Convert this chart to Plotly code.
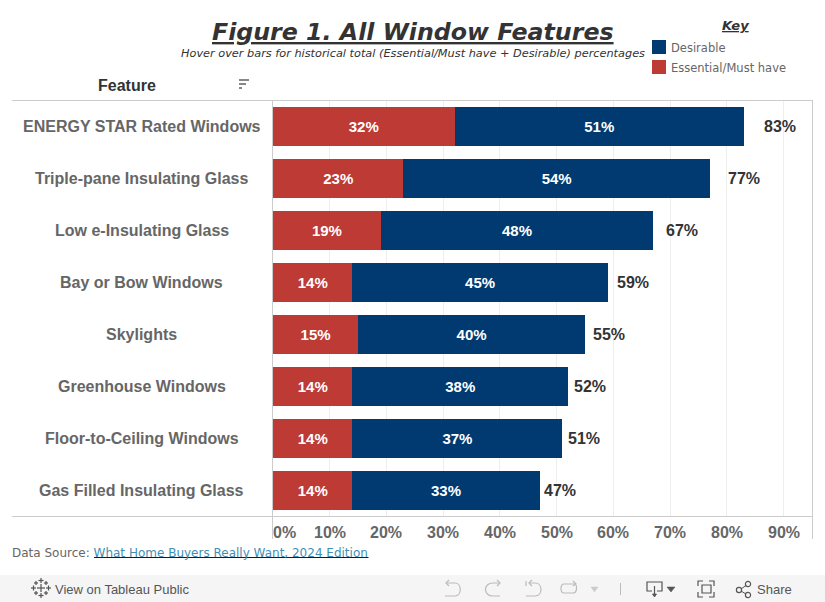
import plotly.graph_objects as go

features = ["ENERGY STAR Rated Windows", "Triple-pane Insulating Glass", "Low e-Insulating Glass",
            "Bay or Bow Windows", "Skylights", "Greenhouse Windows",
            "Floor-to-Ceiling Windows", "Gas Filled Insulating Glass"]
essential = [32, 23, 19, 14, 15, 14, 14, 14]
desirable = [51, 54, 48, 45, 40, 38, 37, 33]
totals = [83, 77, 67, 59, 55, 52, 51, 47]
tick_vals = [0, 10, 20, 30, 40, 50, 60, 70, 80, 90]

W, H = 825, 602
L, R, T, B = 273, 812, 100, 516
RED = "#bd3a35"
NAVY = "#003a70"
GREY = "#666666"
DARK = "#333333"
LINE = "#cccccc"
ICON = "#555555"
FADED = "#bbbbbb"
SANS = "Liberation Sans, Arial, sans-serif"
TITLE = "DejaVu Sans, Verdana, sans-serif"


# shapes and notes are placed in page pixels, paper coords are relative to the plot area
def px(x):
    return (x - L) / (R - L)


def py(y):
    return (B - y) / (B - T)


fig = go.Figure()
fig.add_trace(go.Bar(y=features, x=essential, orientation="h", name="Essential/Must have",
                     marker=dict(color=RED, line_width=0), text=[f"<b>{v}%</b>" for v in essential],
                     textposition="inside", insidetextanchor="middle",
                     textfont=dict(family=SANS, size=15, color="white"), showlegend=False))
fig.add_trace(go.Bar(y=features, x=desirable, orientation="h", name="Desirable",
                     marker=dict(color=NAVY, line_width=0), text=[f"<b>{v}%</b>" for v in desirable],
                     textposition="inside", insidetextanchor="middle",
                     textfont=dict(family=SANS, size=15, color="white"), showlegend=False))

annotations = []
# totals drift away from the bar end as the bar gets longer
for f, t in zip(features, totals):
    annotations.append(dict(x=t, y=f, xref="x", yref="y", text=f"<b>{t}%</b>", showarrow=False,
                            xanchor="left", xshift=2 + (t - 47) * 0.46,
                            font=dict(family=SANS, size=16, color=DARK)))
# category labels are centred in their column
for f in features:
    annotations.append(dict(x=px(141.5), y=f, xref="paper", yref="y", text=f"<b>{f}</b>",
                            showarrow=False, xanchor="center",
                            font=dict(family=SANS, size=16, color=GREY)))
# x tick labels, the first one sits right of its gridline
for v in tick_vals:
    annotations.append(dict(x=v, y=py(532), xref="x", yref="paper", text=f"<b>{v}%</b>",
                            showarrow=False, xanchor="left" if v == 0 else "center", yanchor="middle",
                            xshift=-2 if v == 0 else 0,
                            font=dict(family=SANS, size=16, color=GREY)))


def text(x, y, s, size, color=DARK, family=TITLE, anchor="left"):
    annotations.append(dict(x=px(x), y=py(y), xref="paper", yref="paper", text=s, showarrow=False,
                            xanchor=anchor, yanchor="middle", font=dict(family=family, size=size, color=color)))


text(412.5, 32, "<b><i><u>Figure 1. All Window Features</u></i></b>", 23.7, anchor="center")
text(412.5, 53, "<i>Hover over bars for historical total (Essential/Must have + Desirable) percentages</i>",
     11.3, anchor="center")
text(735, 26, "<b><i><u>Key</u></i></b>", 13, anchor="center")
text(669, 48, "Desirable", 11.5, GREY)
text(669, 68, "Essential/Must have", 11.5, GREY)
text(127, 85, "<b>Feature</b>", 16, DARK, SANS, "center")
text(10, 553, "Data Source: <a href='#' style='color:#3f8fb5'>What Home Buyers Really Want, 2024 Edition</a>",
     12, GREY)
text(53, 589, "View on Tableau Public", 13, ICON, SANS)
text(755, 589, "Share", 13, ICON, SANS)


def rect(x0, y0, x1, y1, fill, layer="above"):
    return dict(type="rect", xref="paper", yref="paper", x0=px(x0), x1=px(x1), y0=py(y0), y1=py(y1),
                fillcolor=fill, line_width=0, layer=layer)


def line(x0, y0, x1, y1, color=LINE, width=1):
    return dict(type="line", xref="paper", yref="paper", x0=px(x0), x1=px(x1), y0=py(y0), y1=py(y1),
                line=dict(color=color, width=width))


def icon(cmds, color=FADED, width=1.2, fill=None):
    # cmds: (letter, x, y, x, y...) in page pixels
    parts = []
    for c in cmds:
        nums = [px(v) if i % 2 == 0 else py(v) for i, v in enumerate(c[1:])]
        parts.append(c[0] + " " + " ".join(f"{n:.5f}" for n in nums))
    d = " ".join(parts)
    return dict(type="path", xref="paper", yref="paper", path=d, fillcolor=fill or "rgba(0,0,0,0)",
                line=dict(color=color, width=width))


def circle(cx, cy, r, color=ICON):
    return dict(type="circle", xref="paper", yref="paper", x0=px(cx - r), x1=px(cx + r), y0=py(cy - r), y1=py(cy + r),
                line=dict(color=color, width=1.2))


def plus(cx, cy, arm, color=ICON):
    return [line(cx - arm, cy, cx + arm, cy, color, 1.2), line(cx, cy - arm, cx, cy + arm, color, 1.2)]


shapes = [
    rect(0, 575, W, 602, "#f5f5f5", "below"),
    rect(652, 40, 666, 54, NAVY),
    rect(652, 60, 666, 74, RED),
    line(12, T + 0.5, R, T + 0.5), line(12, B + 0.5, R, B + 0.5),
    line(L - 0.5, T, L - 0.5, 539), line(R + 0.5, T, R + 0.5, 539),
    line(94, 557.5, 368.5, 557.5, "#0000ee", 1),
    # sort icon
    line(239, 80, 249, 80, ICON, 1.4), line(239, 84, 246, 84, ICON, 1.4), line(239, 88, 242, 88, ICON, 1.4),
    # undo, redo, revert, refresh
    icon([("M", 446, 583), ("L", 455, 583), ("C", 462, 583, 462, 596, 455, 596), ("L", 445, 596)]),
    icon([("M", 449, 580), ("L", 446, 583), ("L", 449, 586)]),
    icon([("M", 500, 583), ("L", 493, 583), ("C", 483, 583, 483, 596, 493, 596), ("L", 500, 596)]),
    icon([("M", 497, 580), ("L", 500, 583), ("L", 497, 586)]),
    line(526, 581, 526, 586, FADED, 1.2),
    icon([("M", 529, 583), ("L", 535, 583), ("C", 543, 583, 543, 596, 535, 596), ("L", 526, 596)]),
    icon([("M", 532, 580), ("L", 529, 583), ("L", 532, 586)]),
    icon([("M", 576, 584), ("L", 564, 584), ("C", 560, 584, 560, 593, 564, 593), ("L", 573, 593),
          ("C", 577, 593, 577, 587, 576, 585)]),
    icon([("M", 573, 581), ("L", 576, 584), ("L", 573, 586)]),
    icon([("M", 591, 587), ("L", 598, 587), ("L", 594.5, 592), ("Z",)], "#cccccc", 0.5, "#cccccc"),
    line(620.5, 583, 620.5, 595, FADED, 1),
    # download
    icon([("M", 652, 591), ("L", 647, 591), ("L", 647, 582), ("L", 662, 582), ("L", 662, 591), ("L", 657, 591)], ICON),
    line(654.5, 586, 654.5, 596, ICON, 1.2),
    icon([("M", 652.5, 594), ("L", 654.5, 597), ("L", 656.5, 594), ("Z",)], ICON, 0.8, ICON),
    icon([("M", 667, 587), ("L", 675, 587), ("L", 671, 592), ("Z",)], ICON, 0.5, ICON),
    # fullscreen
    icon([("M", 698, 586), ("L", 698, 581), ("L", 703, 581)], ICON),
    icon([("M", 709, 581), ("L", 714, 581), ("L", 714, 586)], ICON),
    icon([("M", 698, 592), ("L", 698, 597), ("L", 703, 597)], ICON),
    icon([("M", 709, 597), ("L", 714, 597), ("L", 714, 592)], ICON),
    icon([("M", 702, 585), ("L", 711, 585), ("L", 711, 593), ("L", 702, 593), ("Z",)], ICON),
    # share
    circle(748, 584, 2.6), circle(739, 590, 2.6), circle(748, 595, 2.6),
    line(741, 589, 746, 585.5, ICON, 1), line(741, 591, 746, 594, ICON, 1),
]
# tableau logo
shapes += plus(41, 588, 4) + plus(41, 580.5, 2.5) + plus(41, 595.5, 2.5) + plus(33.5, 588, 2.5) + plus(48.5, 588, 2.5)
for dx, dy in [(-5, -5), (5, -5), (-5, 5), (5, 5)]:
    shapes += plus(41 + dx, 588 + dy, 2)

fig.update_layout(width=W, height=H, margin=dict(l=L, r=W - R, t=T, b=H - B), barmode="stack", bargap=0.25,
                  plot_bgcolor="white", paper_bgcolor="white", annotations=annotations, shapes=shapes,
                  hovermode="y")
fig.update_xaxes(range=[0, 95], tickvals=tick_vals, showticklabels=False, showgrid=True,
                 gridcolor="#eeeeee", gridwidth=1, zeroline=False, showline=False, ticks="")
fig.update_yaxes(categoryorder="array", categoryarray=features[::-1], showticklabels=False,
                 showgrid=False, zeroline=False, showline=False, ticks="")

fig.write_html("out.html", config={"displayModeBar": False}, post_script="document.body.style.margin='0';")
